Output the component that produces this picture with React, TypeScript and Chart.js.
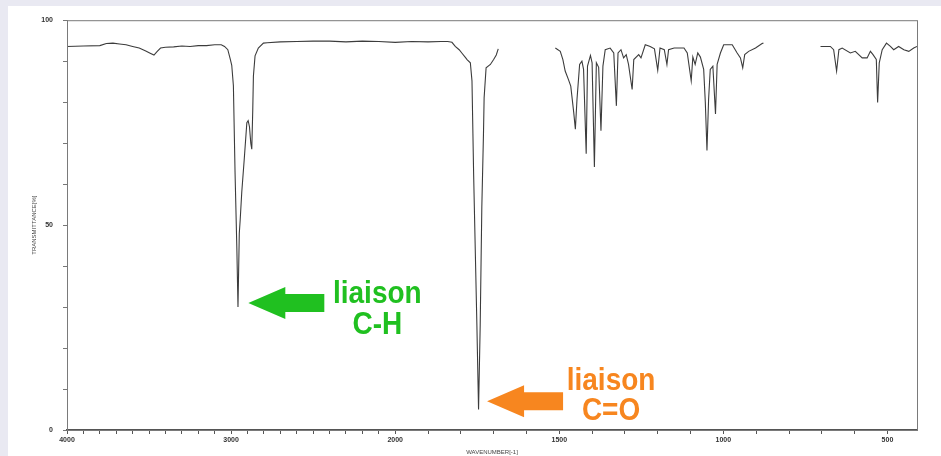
import React, { useEffect, useRef } from 'react';
import { Chart, registerables } from 'chart.js';

Chart.register(...registerables);

// ---- Spectrum data (wavenumber in cm-1, transmittance in %) ----
const seg1Wn = [4000, 3900, 3800, 3760, 3720, 3680, 3640, 3600, 3560, 3520, 3490, 3470, 3450, 3430, 3400, 3350, 3300, 3250, 3200, 3150, 3100, 3060, 3040, 3020, 3005, 2996, 2990, 2986, 2976, 2965, 2958, 2950, 2945, 2935, 2920, 2904, 2896, 2888, 2880, 2874, 2868, 2864, 2854, 2834, 2803, 2780, 2700, 2600, 2500, 2400, 2300, 2200, 2100, 2000, 1950, 1900, 1860, 1840, 1827, 1817, 1805, 1797, 1785, 1781, 1771, 1766, 1761, 1756, 1751, 1746, 1741, 1736, 1731, 1729, 1723, 1710, 1700, 1692, 1686];
const seg1T = [93.6, 93.7, 93.8, 94.3, 94.4, 94.2, 94.0, 93.6, 93.2, 92.5, 91.9, 91.5, 92.4, 93.2, 93.4, 93.5, 93.7, 93.6, 93.8, 93.8, 94.0, 94.0, 93.6, 92.8, 90.5, 89.0, 86.0, 84.0, 63.0, 44.5, 30.0, 48.0, 51.0, 58.0, 66.0, 75.0, 75.5, 74.0, 70.0, 68.5, 78.0, 86.4, 91.3, 93.2, 94.4, 94.5, 94.7, 94.8, 94.9, 94.9, 94.7, 94.9, 94.8, 94.6, 94.8, 94.7, 94.8, 94.8, 94.6, 93.6, 92.8, 92.0, 90.8, 90.4, 89.6, 85.2, 62.5, 44.0, 25.4, 5.0, 25.4, 54.5, 72.2, 81.1, 88.4, 89.2, 90.4, 91.5, 93.0];

const seg2Wn = [1512, 1497, 1489, 1482, 1472, 1465, 1456, 1451, 1446, 1438, 1431, 1426, 1418, 1414, 1405, 1400, 1393, 1387, 1380, 1373, 1367, 1360, 1345, 1334, 1326, 1321, 1312, 1304, 1296, 1289, 1278, 1273, 1258, 1251, 1238, 1223, 1210, 1200, 1193, 1180, 1172, 1167, 1150, 1120, 1110, 1098, 1093, 1086, 1078, 1070, 1060, 1055, 1050, 1045, 1040, 1032, 1024, 1019, 1009, 999, 973, 958, 948, 941, 935, 923, 902, 882, 878];
const seg2T = [93.2, 92.4, 90.4, 87.6, 85.5, 83.9, 77.5, 73.4, 80.7, 89.2, 90.0, 88.0, 67.4, 88.8, 91.4, 89.6, 64.2, 89.6, 88.5, 73.0, 88.8, 92.8, 93.2, 92.0, 79.1, 92.0, 92.8, 90.8, 91.6, 89.2, 83.1, 90.4, 91.6, 90.8, 94.0, 93.6, 93.0, 87.8, 93.2, 92.8, 89.2, 92.8, 93.2, 93.2, 92.0, 85.2, 91.0, 89.2, 92.0, 91.0, 88.0, 79.9, 68.2, 80.7, 88.0, 88.8, 77.1, 89.2, 92.0, 94.0, 94.0, 92.0, 90.8, 88.4, 91.6, 92.4, 93.2, 94.3, 94.4];

const seg3Wn = [704, 674, 664, 655, 648, 638, 613, 598, 577, 562, 552, 544, 534, 530, 525, 516, 503, 491, 481, 466, 450, 435, 420, 410];
const seg3T = [93.6, 93.6, 92.8, 87.6, 92.8, 93.2, 92.0, 92.4, 90.8, 90.8, 92.4, 91.6, 90.4, 79.9, 89.6, 92.8, 94.4, 93.6, 92.8, 93.6, 92.8, 92.4, 93.2, 93.6];

// ---- Axis labels ----
const xTickLabels = [4000, 3000, 2000, 1500, 1000, 500];
const yTickLabels = [0, 50, 100];
const xTitle = 'WAVENUMBER[-1]';
const yTitle = 'TRANSMITTANCE[%]';

// ---- Annotations ----
const noteTipWn = [2895, 1720];
const noteTipT = [31, 7];
const noteLine1 = ['liaison', 'liaison'];
const noteLine2 = ['C-H', 'C=O'];
const noteColors = ['#20c020', '#f7861f'];

// wavenumber -> axis position (scale doubles below 2000 cm-1)
const toPos = (wn: number) => (wn >= 2000 ? (4000 - wn) / 2 : 1000 + (2000 - wn));
const WN_MIN = 410;

function buildPoints() {
  const pts: { x: number; y: number | null }[] = [];
  const segs: [number[], number[]][] = [
    [seg1Wn, seg1T],
    [seg2Wn, seg2T],
    [seg3Wn, seg3T],
  ];
  segs.forEach(([wn, t], i) => {
    wn.forEach((w, j) => pts.push({ x: toPos(w), y: t[j] }));
    if (i < segs.length - 1) pts.push({ x: toPos(wn[wn.length - 1]) + 1, y: null });
  });
  return pts;
}

const framePlugin = {
  id: 'frame',
  afterDraw(chart: any) {
    const { ctx, chartArea: a } = chart;
    ctx.save();
    ctx.strokeStyle = '#7a7a7a';
    ctx.lineWidth = 1;
    ctx.strokeRect(a.left + 0.5, a.top + 0.5, a.right - a.left, a.bottom - a.top);
    ctx.restore();
  },
};

const notesPlugin = {
  id: 'notes',
  afterDraw(chart: any) {
    const { ctx, scales } = chart;
    const textDy = [
      [0, 31],
      [-11, 19],
    ];
    const textDx = [129, 124];
    noteTipWn.forEach((wn, i) => {
      const tx = scales.x.getPixelForValue(toPos(wn));
      const ty = scales.y.getPixelForValue(noteTipT[i]);
      ctx.save();
      ctx.fillStyle = noteColors[i];
      ctx.beginPath();
      ctx.moveTo(tx, ty);
      ctx.lineTo(tx + 37, ty - 16);
      ctx.lineTo(tx + 37, ty - 9);
      ctx.lineTo(tx + 76, ty - 9);
      ctx.lineTo(tx + 76, ty + 9);
      ctx.lineTo(tx + 37, ty + 9);
      ctx.lineTo(tx + 37, ty + 16);
      ctx.closePath();
      ctx.fill();
      ctx.font = 'bold 28px "Liberation Sans", Arial, sans-serif';
      ctx.textAlign = 'center';
      ctx.textBaseline = 'alphabetic';
      const lines = [noteLine1[i], noteLine2[i]];
      lines.forEach((s, k) => {
        ctx.save();
        ctx.translate(tx + textDx[i], ty + textDy[i][k]);
        ctx.scale(1, 1.12);
        ctx.fillText(s, 0, 0);
        ctx.restore();
      });
      ctx.restore();
    });
  },
};

export default function App() {
  const ref = useRef<HTMLCanvasElement | null>(null);
  useEffect(() => {
    document.body.style.margin = '0';
    document.body.style.background = '#e9e9f2';
    const tickFont = { family: '"Liberation Sans", Arial, sans-serif', size: 7, weight: 'bold' as const };
    const chart = new Chart(ref.current as HTMLCanvasElement, {
      type: 'line',
      data: {
        datasets: [
          {
            data: buildPoints() as any,
            borderColor: '#3c3c3c',
            borderWidth: 1.1,
            pointRadius: 0,
            tension: 0,
            spanGaps: false,
            fill: false,
          },
        ],
      },
      options: {
        responsive: false,
        animation: false,
        devicePixelRatio: 1,
        parsing: false as any,
        layout: { padding: { top: 11, right: 24, left: 0, bottom: 0 } },
        plugins: { legend: { display: false }, tooltip: { enabled: false } },
        scales: {
          x: {
            type: 'linear',
            min: 0,
            max: toPos(WN_MIN),
            afterFit: (s: any) => {
              s.height = 26;
            },
            afterBuildTicks: (s: any) => {
              const t = [];
              for (let w = 4000; w >= 500; w -= 100) t.push({ value: toPos(w) });
              s.ticks = t;
            },
            ticks: {
              autoSkip: false,
              maxRotation: 0,
              padding: 2,
              color: '#333',
              font: tickFont,
              callback: (v: any) => {
                const hit = xTickLabels.find((w) => toPos(w) === v);
                return hit !== undefined ? String(hit) : '';
              },
            },
            grid: { drawOnChartArea: false, drawTicks: true, tickLength: 4, tickColor: '#555' },
            border: { display: true, color: '#555', width: 1.2 },
            title: {
              display: true,
              text: xTitle,
              color: '#444',
              font: { family: '"Liberation Sans", Arial, sans-serif', size: 6 },
              padding: { top: 0, bottom: 0 },
            },
          },
          y: {
            type: 'linear',
            min: 0,
            max: 100,
            afterFit: (s: any) => {
              s.width = 59;
            },
            ticks: {
              stepSize: 10,
              padding: 10,
              color: '#333',
              font: tickFont,
              callback: (v: any) => (yTickLabels.includes(Number(v)) ? String(v) : ''),
            },
            grid: { drawOnChartArea: false, drawTicks: true, tickLength: 4, tickColor: '#777' },
            border: { display: true, color: '#888', width: 1 },
            title: {
              display: true,
              text: yTitle,
              color: '#444',
              font: { family: '"Liberation Sans", Arial, sans-serif', size: 6 },
              padding: { top: 23, bottom: 0 },
            },
          },
        },
      },
      plugins: [framePlugin, notesPlugin],
    });
    return () => chart.destroy();
  }, []);

  return (
    <div style={{ position: 'relative', width: 941, height: 456, background: '#e9e9f2', overflow: 'hidden' }}>
      <div style={{ position: 'absolute', left: 8, top: 6, width: 933, height: 450, background: '#ffffff' }}>
        <canvas ref={ref} width={933} height={450} style={{ display: 'block', width: 933, height: 450 }} />
      </div>
    </div>
  );
}
